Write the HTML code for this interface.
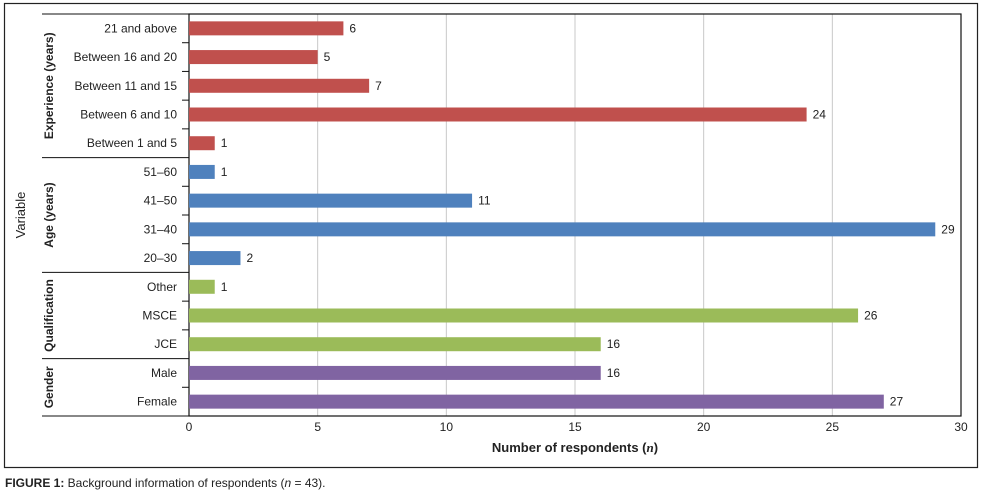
<!DOCTYPE html>
<html><head><meta charset="utf-8"><style>
body{margin:0;background:#fff;width:984px;height:499px;overflow:hidden;font-family:"Liberation Sans",sans-serif}
text{font-family:"Liberation Sans",sans-serif}
</style></head><body>
<svg id="chart" width="984" height="499" xmlns="http://www.w3.org/2000/svg">
<rect x="4.5" y="3.5" width="973" height="464" fill="none" stroke="#222" stroke-width="1.2"/>
<g id="grid"></g><g id="bars"></g><g id="labels"></g>
<text x="575" y="452" text-anchor="middle" font-size="13" font-weight="bold" fill="#222">Number of respondents (<tspan font-style="italic" font-family="Liberation Serif">n</tspan>)</text>
<text transform="translate(25,215) rotate(-90)" text-anchor="middle" font-size="13" fill="#222">Variable</text>
<text x="5" y="487" font-size="12" fill="#222"><tspan font-weight="bold">FIGURE 1:</tspan> Background information of respondents (<tspan font-style="italic">n</tspan> = 43).</text>
</svg>
<script>
const categories=["21 and above","Between 16  and 20","Between 11 and 15","Between 6 and 10","Between 1 and  5","51–60","41–50","31–40","20–30","Other","MSCE","JCE","Male","Female"];
const values=[6,5,7,24,1,1,11,29,2,1,26,16,16,27];
const groupOf=[0,0,0,0,0,1,1,1,1,2,2,2,3,3];
const groupNames=["Experience (years)","Age (years)","Qualification","Gender"];
const groupColors=["#C0504D","#4F81BD","#9BBB59","#8064A2"];
const xTicks=[0,5,10,15,20,25,30];
const NS="http://www.w3.org/2000/svg";
const L=189,R=961,T=14,B=416,xMax=30;
const rowH=(B-T)/categories.length;
const xs=v=>L+(R-L)*v/xMax;
const yc=i=>T+rowH*(i+0.5);
function mk(tag,attrs,parent,txt){const e=document.createElementNS(NS,tag);for(const k in attrs)e.setAttribute(k,attrs[k]);if(txt!==undefined)e.textContent=txt;parent.appendChild(e);return e;}
const grid=document.getElementById('grid'),bars=document.getElementById('bars'),labels=document.getElementById('labels');
xTicks.forEach(t=>{
 if(t>0&&t<xMax){const g=mk('line',{x1:xs(t),x2:xs(t),y1:T,y2:B,stroke:'#c8c8c8','stroke-width':1},grid);
 
 }
 const tl=mk('text',{x:xs(t),y:B+15,'text-anchor':'middle','font-size':12,fill:'#222'},labels,String(t));
 
 
});
const frame=mk('rect',{x:L,y:T,width:R-L,height:B-T,fill:'none',stroke:'#111','stroke-width':1.2},grid);


categories.forEach((c,i)=>{
 const g=groupOf[i];
 const b=mk('rect',{x:L,y:yc(i)-7,width:xs(values[i])-L,height:14,fill:groupColors[g]},bars);
 
 
 const v=mk('text',{x:xs(values[i])+6,y:yc(i)+4,'font-size':12,fill:'#222'},labels,String(values[i]));
 
 
 const cl=mk('text',{x:177,y:yc(i)+4,'text-anchor':'end','font-size':12,fill:'#222'},labels,c);
 
 
 if(i>0){
  const y=T+rowH*i;
  const sep=groupOf[i]!==groupOf[i-1];
  const tk=mk('line',{x1:sep?42:182,x2:L,y1:y,y2:y,stroke:'#111','stroke-width':1},grid);
  
  
 }
});
[T,B].forEach(y=>{const l=mk('line',{x1:42,x2:L,y1:y,y2:y,stroke:'#111','stroke-width':1},grid);
 
 });
groupNames.forEach((n,g)=>{
 const idx=groupOf.map((x,i)=>x===g?i:-1).filter(i=>i>=0);
 const cy=(yc(idx[0])+yc(idx[idx.length-1]))/2;
 const t=mk('text',{transform:`translate(53,${cy}) rotate(-90)`,'text-anchor':'middle','font-size':12,'font-weight':'bold',fill:'#222'},labels,n);
 
 
});
</script>
</body></html>
